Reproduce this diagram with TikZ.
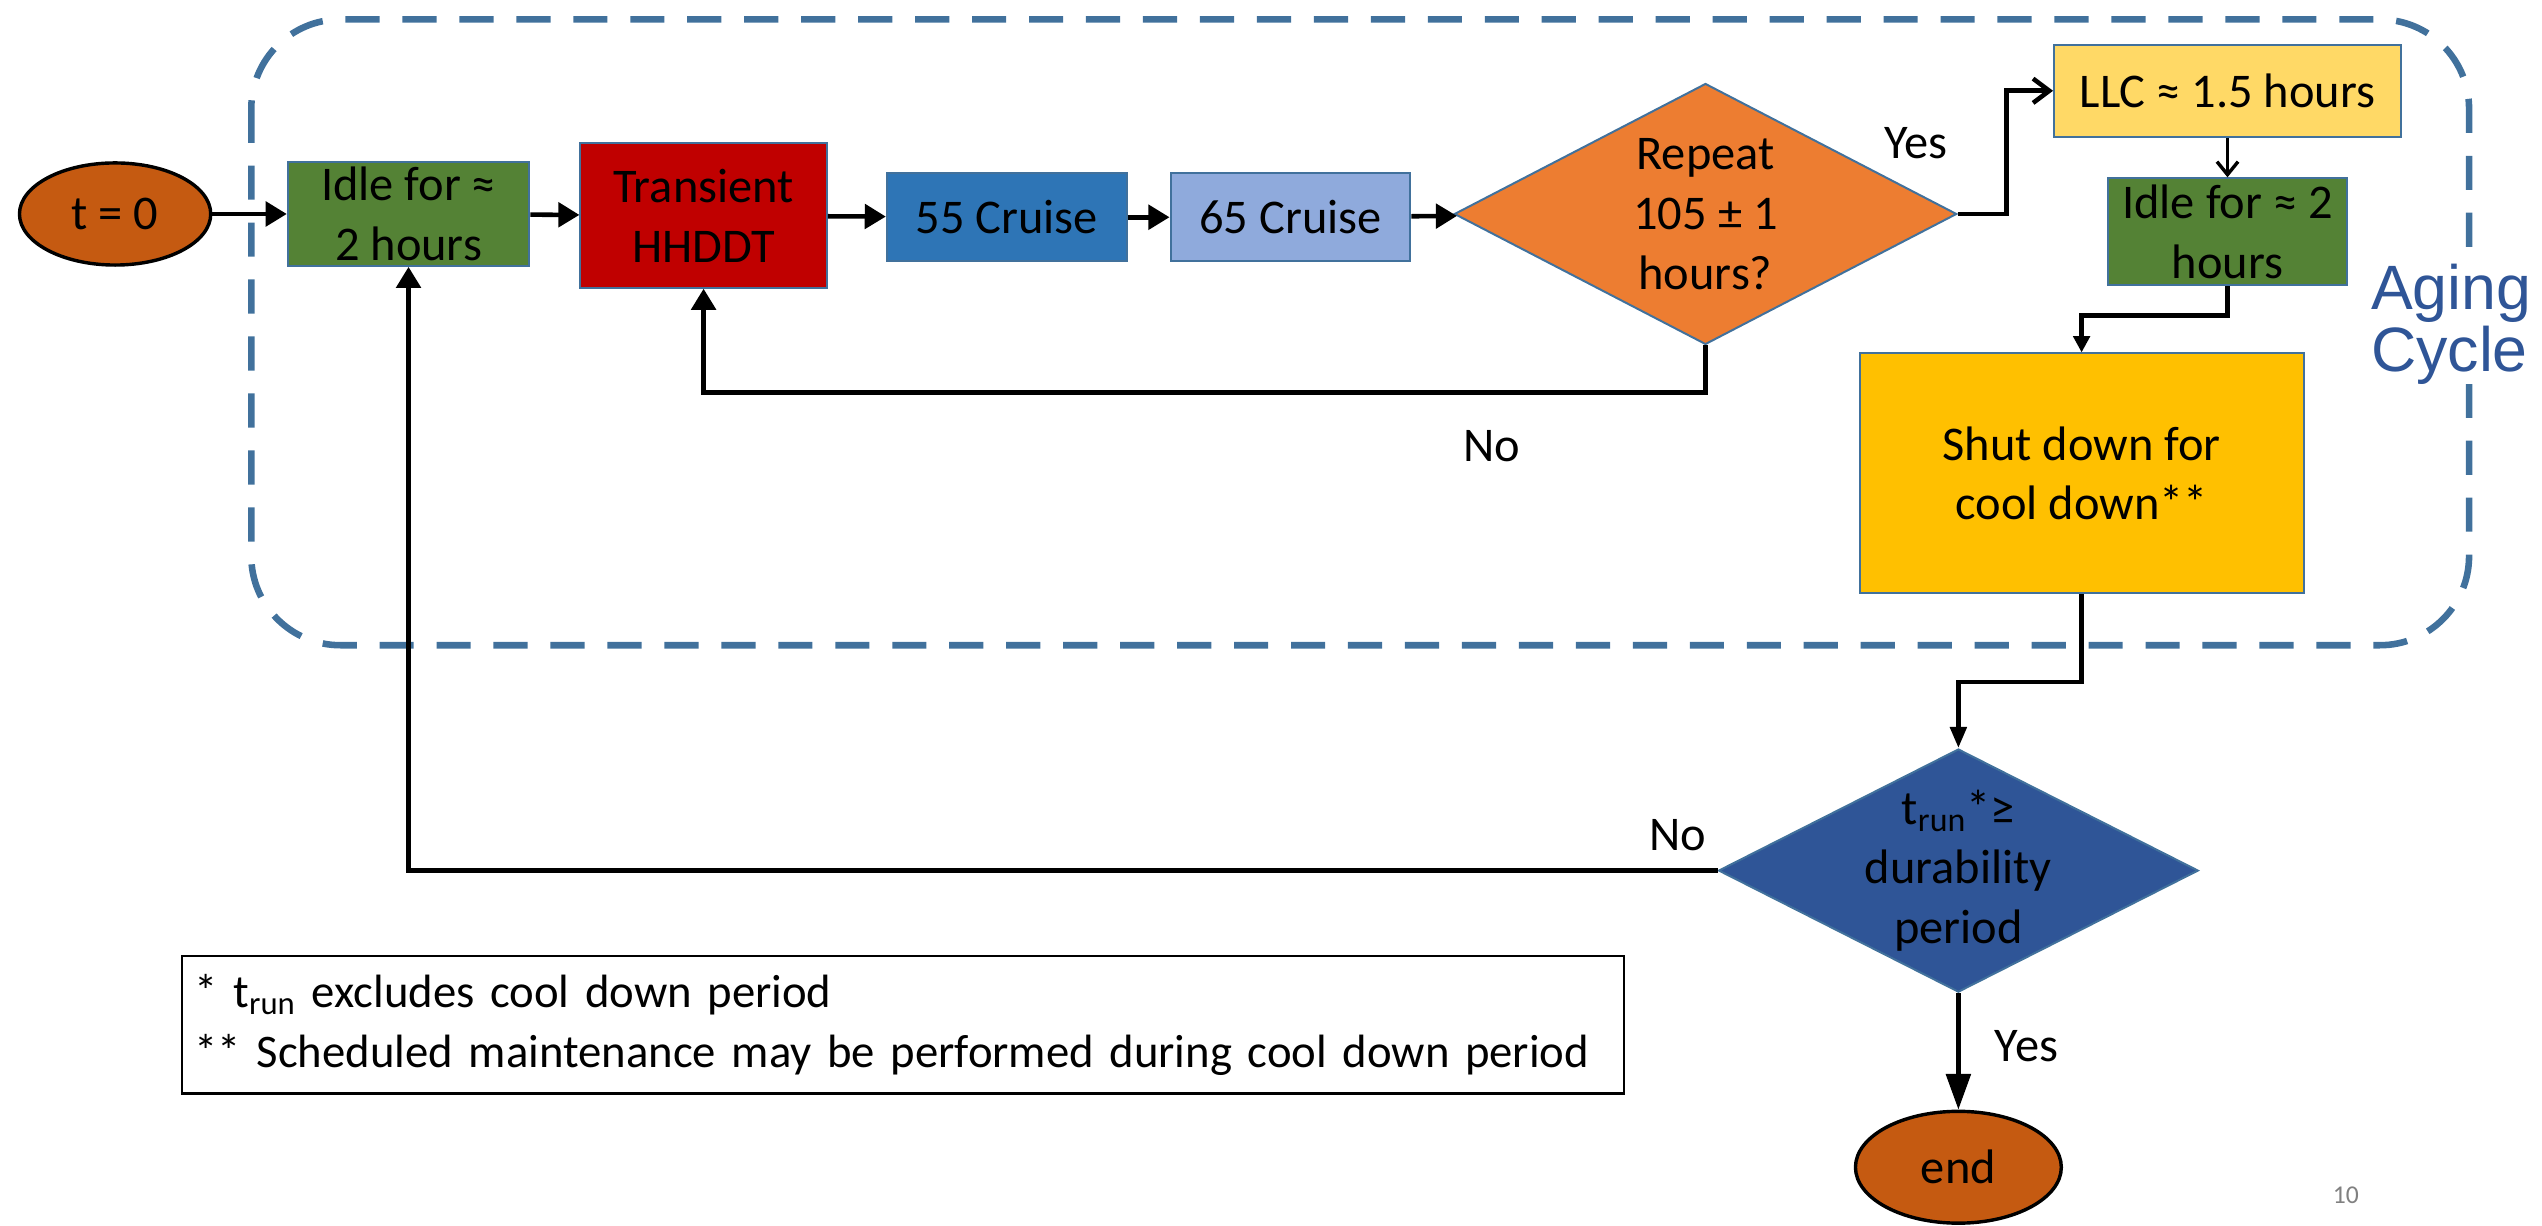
\documentclass[tikz,border=0pt]{standalone}
\usepackage{fontspec}
\setmainfont{Carlito}
\newfontfamily\arialfont{Liberation Sans}
\usetikzlibrary{shapes.geometric,arrows.meta}
\definecolor{edgeblue}{HTML}{41719C}
\definecolor{cycleblue}{HTML}{2F5597}
\definecolor{startorange}{HTML}{C55A11}
\definecolor{idlegreen}{HTML}{548235}
\definecolor{transred}{HTML}{C00000}
\definecolor{cruiseblue}{HTML}{2E75B6}
\definecolor{cruiselight}{HTML}{8FAADC}
\definecolor{repeatorange}{HTML}{ED7D31}
\definecolor{llcyellow}{HTML}{FFD966}
\definecolor{shutgold}{HTML}{FFC000}

\begin{document}
\begin{tikzpicture}[x=0.02cm, y=-0.02cm,
    every node/.style={font=\fontsize{17}{21}\selectfont, align=center, inner sep=0pt},
    every label/.style={font=\fontsize{17}{21}\selectfont, align=center, inner sep=0pt},
    endpoint/.style={ellipse, draw=black, line width=1.2pt, fill=startorange},
    stepbox/.style={rectangle, draw=edgeblue, line width=0.7pt},
    decision/.style={diamond, draw=edgeblue, line width=0.7pt},
    conn/.style={line width=1.6pt, -{Triangle[length=0.26cm, width=0.3cm]}},
    barb/.style={line width=1.6pt, -{Straight Barb[length=0.2cm, width=0.3cm]}}]
    \useasboundingbox (0,0) rectangle (1568,756);
    \draw[edgeblue, line width=2.3pt, dash pattern=on 12pt off 8pt, rounded corners=1.1cm] (155,12) rectangle (1523,398);
    \node[fill=white, align=left, text=cycleblue, font=\arialfont\fontsize{22}{21.5}\selectfont] (Aging) at (1512,200) {Aging\\Cycle};
    \node[endpoint, minimum width=2.36cm, minimum height=1.26cm] (T0) at (71,132) {t = 0};
    \node[stepbox, fill=idlegreen, minimum width=2.98cm, minimum height=1.28cm] (Idle) at (252,132) {Idle for ≈\\2 hours};
    \node[stepbox, fill=transred, minimum width=3.04cm, minimum height=1.78cm] (HHDDT) at (434,133) {Transient\\HHDDT};
    \node[stepbox, fill=cruiseblue, minimum width=2.96cm, minimum height=1.08cm] (C55) at (621,134) {55 Cruise};
    \node[stepbox, fill=cruiselight, minimum width=2.96cm, minimum height=1.08cm] (C65) at (796,134) {65 Cruise};
    \node[decision, fill=repeatorange, minimum width=6.2cm, minimum height=3.22cm,
        label={center:Repeat\\105 ± 1\\hours?}] (Rep) at (1052,132) {};
    \node[stepbox, fill=llcyellow, minimum width=4.28cm, minimum height=1.14cm] (LLC) at (1374,56) {LLC ≈ 1.5 hours};
    \node[stepbox, fill=idlegreen, minimum width=2.94cm, minimum height=1.32cm] (Idle2) at (1374,143) {Idle for ≈ 2\\hours};
    \node[stepbox, fill=shutgold, minimum width=5.48cm, minimum height=2.96cm] (Shut) at (1284,292) {Shut down for\\cool down**};
    \node[decision, fill=cycleblue, minimum width=5.92cm, minimum height=3.0cm,
        label={center:t\textsubscript{run}*≥\\durability\\period}] (TR) at (1208,537) {};
    \node[endpoint, minimum width=2.54cm, minimum height=1.38cm] (End) at (1208,720) {end};
    \node[draw=black, line width=0.8pt, minimum width=17.8cm, minimum height=1.7cm, inner xsep=0.16cm, text width=17.48cm, align=left,
        font=\fontsize{16.4}{21}\selectfont] (Note) at (557,632)
        {* t\textsubscript{run} excludes cool down period\\{}** Scheduled maintenance may be performed during cool down period};
    \node (YesA) at (1182,88) {Yes};
    \node (NoA) at (920,275) {No};
    \node (NoB) at (1035,515) {No};
    \node (YesB) at (1250,645) {Yes};
    \node[text=gray, font=\fontsize{9}{10}\selectfont] (PageNo) at (1447,737) {10};
    \draw[conn] (T0) -- (Idle);
    \draw[conn] (Idle) -- (HHDDT);
    \draw[conn] (HHDDT) -- (C55);
    \draw[conn] (C55) -- (C65);
    \draw[conn] (C65) -- (Rep);
    \draw[barb] (Rep.east) -- ++(30,0) |- (LLC.west);
    \draw[line width=1.2pt, -{Straight Barb[length=0.16cm, width=0.26cm]}] (LLC) -- (Idle2);
    \draw[line width=1.6pt, -{Triangle[length=0.2cm, width=0.2cm]}] (Idle2.south) -- ++(0,18) -| (Shut.north);
    \draw[line width=1.6pt, -{Triangle[length=0.26cm, width=0.2cm]}] (Shut.south) -- ++(0,54) -| (TR.north);
    \draw[conn] (Rep.south) -- ++(0,29) -| (HHDDT.south);
    \draw[conn] (TR.west) -| (Idle.south);
    \draw[line width=1.6pt, -{Triangle[length=0.44cm, width=0.3cm]}] (TR.south) -- (End.north);
\end{tikzpicture}
\end{document}
